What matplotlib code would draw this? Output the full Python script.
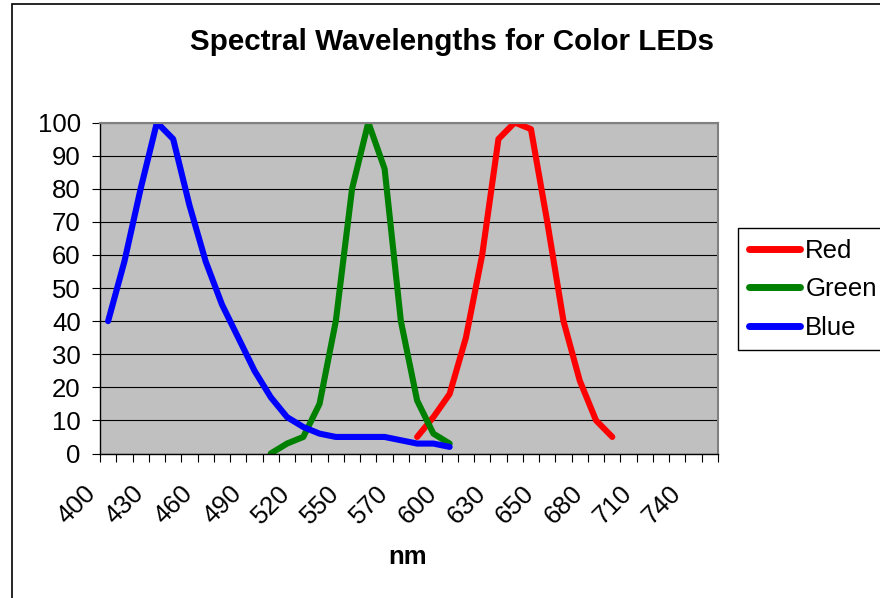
import numpy as np
import matplotlib
matplotlib.use('Agg')
import matplotlib.pyplot as plt
from matplotlib.patches import Rectangle

matplotlib.rcParams['font.family'] = 'Liberation Sans'

# category axis (nm), only every 3rd label is shown
wavelengths = [400, 410, 420, 430, 440, 450, 460, 470, 480, 490, 500, 510, 520, 530, 540, 550,
               560, 565, 570, 580, 590, 600, 610, 620, 630, 640, 645, 650, 660, 670, 680, 690,
               700, 710, 720, 730, 740, 750]

n = len(wavelengths)
blue = [40, 58, 80, 100, 95, 75, 58, 45, 35, 25, 17, 11, 8, 6, 5, 5, 5, 5, 4, 3, 3, 2]
green = [None] * 10 + [0, 3, 5, 15, 40, 80, 100, 86, 40, 16, 6, 3]
red = [None] * 19 + [5, 11, 18, 35, 60, 95, 100, 98, 70, 40, 22, 10, 5]

def pad(vals):
    vals = list(vals) + [None] * (n - len(vals))
    return np.array(vals, dtype=float)

series = [('Red', red, '#FF0000'), ('Green', green, '#008000'), ('Blue', blue, '#0000FF')]

fig = plt.figure(figsize=(8.8, 5.98), dpi=100)
ax = fig.add_axes([100/880, 1 - 453.5/598, 618/880, 331/598])
ax.set_facecolor('#C0C0C0')

x = np.arange(n)
for name, vals, col in series:
    ax.plot(x, pad(vals), color=col, lw=4.4, label=name, solid_joinstyle='round',
            solid_capstyle='round')

ax.set_xlim(-0.5, n - 0.5)
ax.set_ylim(0, 100)
ax.set_yticks(range(0, 101, 10))
ax.yaxis.grid(True, color='black', lw=0.8)
ax.set_axisbelow(True)

lab_idx = list(range(0, n, 3))
ax.set_xticks([i - 0.5 for i in lab_idx])
ax.set_xticklabels([str(wavelengths[i]) for i in lab_idx], rotation=45, ha='right', va='top')
ax.set_xticks(np.arange(n + 1) - 0.5, minor=True)
ax.tick_params(axis='x', which='both', length=5.8, width=0.8, direction='out', pad=14,
               labelsize=18.5)
ax.tick_params(axis='y', length=5.8, width=0.8, direction='out', pad=8, labelsize=18.5)

for s in ('top', 'right'):
    ax.spines[s].set_color('#808080')
    ax.spines[s].set_linewidth(1.5)
for s in ('left', 'bottom'):
    ax.spines[s].set_color('black')
    ax.spines[s].set_linewidth(1.0)

fig.text(452/880, 1 - 42/598, 'Spectral Wavelengths for Color LEDs', ha='center', va='center',
         fontsize=21.3, fontweight='bold')
fig.text(408/880, 1 - 557/598, 'nm', ha='center', va='center', fontsize=18.5, fontweight='bold')

leg = fig.legend(loc='upper left', bbox_to_anchor=(738/880, 1 - 228/598), fontsize=18.5,
                 frameon=True, fancybox=False, edgecolor='black', framealpha=1,
                 handlelength=2.0, handletextpad=0.2, labelspacing=0.56, borderpad=0.42,
                 borderaxespad=0)
leg.get_frame().set_linewidth(1.0)
for line in leg.get_lines():
    line.set_linewidth(5)
    line.set_solid_capstyle('round')

fig.patches.append(Rectangle((12/880, -0.1), 1.2, 1.1 - 4/598, transform=fig.transFigure,
                             fill=False, edgecolor='black', lw=1.2))

plt.savefig('out.png', dpi=100)
